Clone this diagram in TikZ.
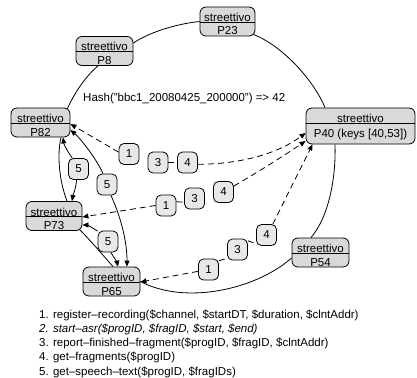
\documentclass[tikz,border=0pt]{standalone}
\usepackage{fontspec}
\setmainfont{Liberation Sans}
\usetikzlibrary{arrows.meta,calc}
\newcommand\PNode[4]{%
  \node[pbox, minimum width=#3] (#1) at #2 {};
  \draw[line width=0.8pt] ([yshift=-0.5pt]#1.west) -- ([yshift=-0.5pt]#1.east);
  \node[lbl] (#1t) at (#1.center) {streettivo};
  \node[lbl] (#1b) at ([yshift=-13.5pt]#1.center) {#4};}
\begin{document}
\begin{tikzpicture}[x=1pt,y=-1pt,
  font=\fontsize{11.5}{13.8}\selectfont,
  pbox/.style={draw, line width=0.8pt, rounded corners=6pt, fill=gray!30, inner sep=0pt, minimum height=29pt},
  nbox/.style={draw, line width=0.8pt, rounded corners=5pt, fill=gray!18, inner sep=0pt, minimum width=20pt, minimum height=21pt},
  ring/.style={line width=0.8pt},
  msg/.style={line width=0.8pt, -{Triangle[length=6pt,width=5pt]}},
  dmsg/.style={msg, dash pattern=on 6pt off 4pt},
  dlink/.style={line width=0.8pt, dash pattern=on 6pt off 4pt},
  lbl/.style={inner sep=0pt, anchor=base}]
\useasboundingbox (0,0) rectangle (417,377);

% peer nodes
\PNode{p23}{(227.5,21.5)}{55pt}{P23}
\PNode{p8}{(104.5,51)}{57pt}{P8}
\PNode{p82}{(40.5,122.5)}{59pt}{P82}
\PNode{p73}{(54,216)}{56pt}{P73}
\PNode{p65}{(111.5,281.5)}{57pt}{P65}
\PNode{p54}{(320.5,252.5)}{57pt}{P54}
\node[pbox, minimum width=109pt, minimum height=36pt] (p40) at (360.5,126) {};
\draw[line width=0.8pt] ([yshift=3pt]p40.west) -- ([yshift=3pt]p40.east);
\node[lbl] (p40t) at ([yshift=3.5pt]p40.center) {streettivo};
\node[lbl] (p40b) at ([yshift=-11pt]p40.center) {P40 (keys [40,53])};

% hash text
\node[lbl, anchor=base west] (hash) at (83,101.5) {Hash("bbc1\_20080425\_200000") => 42};

% message boxes
\node[nbox] (r1a) at (129,154) {1};
\node[nbox] (r1b) at (158,162.5) {3};
\node[nbox] (r1c) at (187.5,162.5) {4};
\node[nbox] (r2a) at (166,205.5) {1};
\node[nbox] (r2b) at (194.5,198.5) {3};
\node[nbox] (r2c) at (223.5,192) {4};
\node[nbox] (r3a) at (208.5,269.5) {1};
\node[nbox] (r3b) at (237.5,249.5) {3};
\node[nbox] (r3c) at (266.5,235) {4};
\node[nbox] (f1) at (78.5,169) {5};
\node[nbox] (f2) at (107,184.5) {5};
\node[nbox] (f3) at (108,241.5) {5};

% ring
\draw[ring] ([xshift=-3pt,yshift=-1pt]p82.north east) .. controls (75,92) and (86,76) .. ([xshift=-6.5pt]p8.south);
\draw[ring] ([yshift=8pt]p8.east) .. controls (148,33) and (175,24) .. (p23.west);
\draw[ring] ([xshift=-2pt,yshift=2pt]p23.south east) .. controls (285,47) and (315,83) .. ([xshift=-35.5pt]p40.north);
\draw[ring] ([xshift=-25.5pt]p40.south) .. controls (336,175) and (330,215) .. ([xshift=-9.5pt]p54.north);
\draw[ring] ([yshift=-5.5pt]p54.west) .. controls (255,290) and (185,305) .. (p65.east);
\draw[ring] ([xshift=1.5pt]p65.north) .. controls (102,254) and (90,240) .. ([xshift=-3pt,yshift=1.5pt]p73.south east);
\draw[ring] ([xshift=13pt]p73.north) .. controls (59,180) and (57,155) .. ([xshift=20.5pt]p82.south);

% dashed messages
\draw[dmsg] (r1a.170) -- ([yshift=-1.5pt]p82.east);
\draw[dlink] (r1b.east) -- (r1c.west);
\draw[dmsg] (r1c.-10) .. controls (245,164) and (280,152) .. ([yshift=-7pt]p40.west);
\draw[dmsg] (r2a.west) -- ([yshift=-1pt]p73.east);
\draw[dlink] (r2a.20) -- (r2b.200);
\draw[dmsg] (r2c.30) .. controls (258,172) and (282,157) .. ([yshift=-15pt]p40.west);
\draw[dmsg] (r3a.190) -- ([yshift=-0.5pt]p65.east);
\draw[dlink] (r3a.40) -- (r3b.220);
\draw[dlink] (r3b.40) -- (r3c.220);
\draw[dmsg] (r3c.60) -- ([xshift=-48pt]p40.south);

% speech-text messages
\draw[msg] (f1.120) .. controls (68,152) and (64,145) .. ([xshift=22.5pt]p82.south);
\draw[msg] (f1.260) .. controls (76,188) and (73,195) .. ([xshift=18pt]p73.north);
\draw[msg] (f2.110) .. controls (96,158) and (80,138) .. ([yshift=-7.5pt]p82.east);
\draw[msg] (f2.-70) .. controls (120,215) and (127,240) .. ([xshift=15.5pt]p65.north);
\draw[msg] (f3.135) .. controls (93,228) and (87,225) .. ([yshift=-9pt]p73.east);
\draw[msg] (f3.-75) .. controls (114,258) and (117,262) .. ([xshift=6.5pt]p65.north);

% legend
\node[lbl, anchor=base west] (l1) at (39,318) {1. register–recording(\$channel, \$startDT, \$duration, \$clntAddr)};
\node[lbl, anchor=base west] (l2) at (39,332.3) {\itshape 2. start–asr(\$progID, \$fragID, \$start, \$end)};
\node[lbl, anchor=base west] (l3) at (39,346.6) {3. report–finished–fragment(\$progID, \$fragID, \$clntAddr)};
\node[lbl, anchor=base west] (l4) at (39,360.9) {4. get–fragments(\$progID)};
\node[lbl, anchor=base west] (l5) at (39,375.2) {5. get–speech–text(\$progID, \$fragIDs)};
\end{tikzpicture}
\end{document}
